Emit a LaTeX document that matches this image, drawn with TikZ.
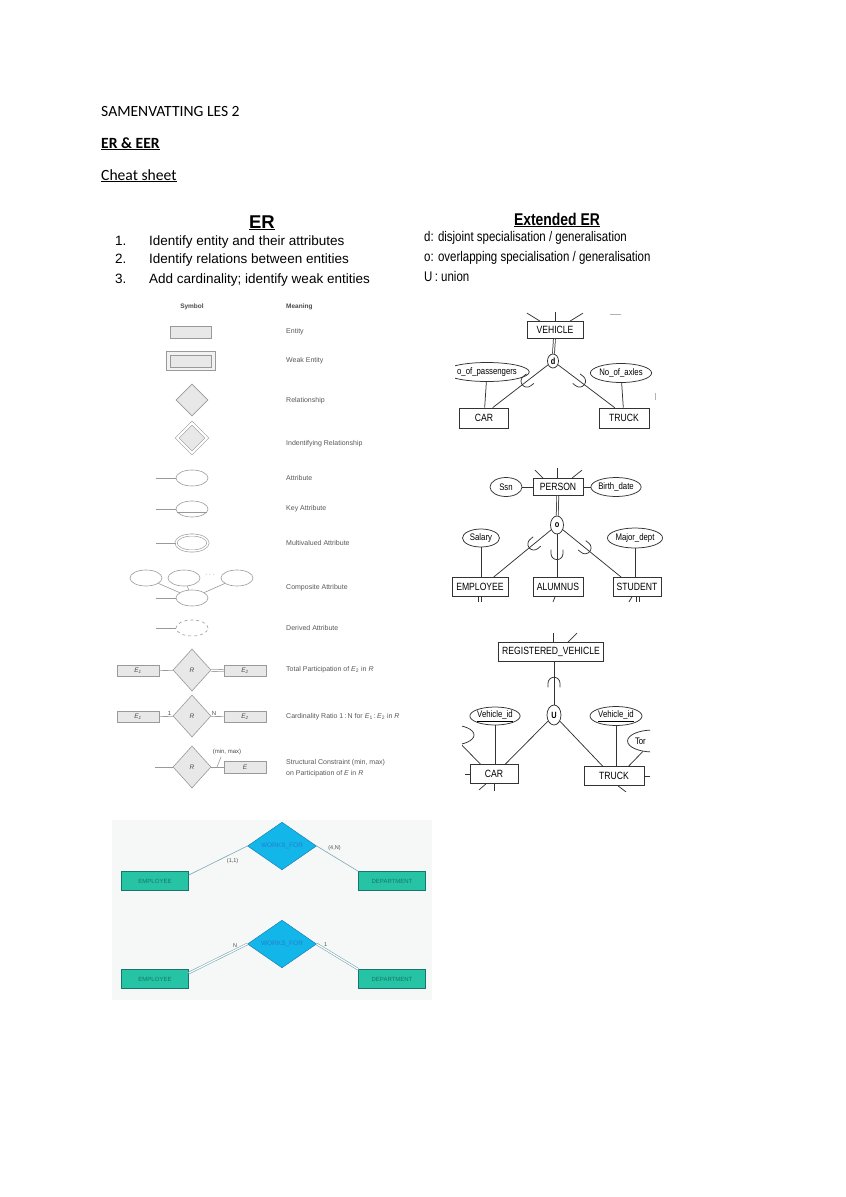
\documentclass[tikz,border=0pt]{standalone}
\usepackage{fontspec}
\setmainfont{Carlito}
\newfontfamily\arialfont{Liberation Sans}
\newfontfamily\narrowfont[FakeStretch=0.82]{Liberation Sans}
\usetikzlibrary{shapes.geometric}

\definecolor{tealfill}{RGB}{38,196,164}
\definecolor{tealdraw}{RGB}{22,118,108}
\definecolor{cyanfill}{RGB}{18,182,232}
\definecolor{cyandraw}{RGB}{20,118,176}
\definecolor{cyantext}{RGB}{40,124,210}
\definecolor{linkcol}{RGB}{122,168,178}
\definecolor{paper}{RGB}{246,248,248}

\begin{document}
\begin{tikzpicture}[x=1pt,y=-1pt,inner sep=1pt,
    subcup/.pic={\draw[eerline] (4,6) -- (0,6) arc[start angle=90,end angle=270,radius=6] -- (4,-6);}]
  \tikzstyle{symline}=[draw=gray!80,line width=0.6pt]
  \tikzstyle{entsym}=[symline,fill=gray!18,rectangle,minimum width=41,minimum height=12,inner sep=0pt,
                      font=\arialfont\itshape\fontsize{6.5}{7}\selectfont,text=black!70]
  \tikzstyle{relsym}=[symline,fill=gray!18,diamond,minimum width=32,minimum height=32,inner sep=0pt,
                      font=\arialfont\itshape\fontsize{6.5}{7}\selectfont,text=black!70]
  \tikzstyle{attsym}=[symline,ellipse,minimum width=32,minimum height=16,inner sep=0pt]
  \tikzstyle{meaning}=[anchor=west,font=\arialfont\fontsize{7}{8}\selectfont,text=black!65]
  \tikzstyle{eerline}=[draw=black!80,line width=0.75pt]
  \tikzstyle{ent}=[eerline,rectangle,minimum height=19,inner sep=1pt,font=\narrowfont\fontsize{10.5}{12}\selectfont]
  \tikzstyle{attr}=[eerline,ellipse,minimum height=19,inner sep=0pt,font=\narrowfont\fontsize{9.5}{11}\selectfont]
  \tikzstyle{gencirc}=[eerline,ellipse,minimum width=13,minimum height=18,inner sep=0pt,
                       font=\narrowfont\bfseries\fontsize{9}{10}\selectfont]
  \tikzstyle{wfent}=[rectangle,draw=tealdraw,fill=tealfill,minimum width=67,minimum height=19,inner sep=0pt,
                     font=\arialfont\fontsize{6}{7}\selectfont,text=tealdraw]
  \tikzstyle{wfrel}=[diamond,draw=cyandraw,fill=cyanfill,minimum width=69,minimum height=32,inner sep=0pt,
                     font=\arialfont\fontsize{6.5}{7}\selectfont,text=cyantext]
  \tikzstyle{wflink}=[draw=linkcol,line width=0.6pt]
  \tikzstyle{wflabel}=[font=\arialfont\fontsize{5.5}{6}\selectfont,text=black!70]

  \useasboundingbox[fill=white] (0,0) rectangle (846,1197);

  % header
  \node[anchor=base west,font=\fontsize{15.6}{18}\selectfont] (TTL) at (100,116) {SAMENVATTING LES 2};
  \node[anchor=base west,font=\bfseries\fontsize{15.6}{18}\selectfont] (SUB) at (100,148) {\underline{ER \& EER}};
  \node[anchor=base west,font=\fontsize{15.6}{18}\selectfont] (CHS) at (100,180) {\underline{Cheat sheet}};

  % ER steps
  \node[anchor=base,font=\arialfont\bfseries\fontsize{18.5}{20}\selectfont] (ERT) at (262,228) {\underline{ER}};
  \node[anchor=base west,font=\arialfont\fontsize{13.5}{16}\selectfont] (N1) at (114,245) {1.};
  \node[anchor=base west,font=\arialfont\fontsize{13.5}{16}\selectfont] (S1) at (148,245) {Identify entity and their attributes};
  \node[anchor=base west,font=\arialfont\fontsize{13.5}{16}\selectfont] (N2) at (114,263) {2.};
  \node[anchor=base west,font=\arialfont\fontsize{13.5}{16}\selectfont] (S2) at (148,263) {Identify relations between entities};
  \node[anchor=base west,font=\arialfont\fontsize{13.5}{16}\selectfont] (N3) at (114,283) {3.};
  \node[anchor=base west,font=\arialfont\fontsize{13.5}{16}\selectfont] (S3) at (148,283) {Add cardinality; identify weak entities};

  % EER legend
  \node[anchor=base,font=\narrowfont\bfseries\fontsize{17}{20}\selectfont] (EERT) at (557,225) {\underline{Extended ER}};
  \node[anchor=base west,font=\narrowfont\fontsize{14}{16}\selectfont] (LGD) at (423,241) {d: disjoint specialisation / generalisation};
  \node[anchor=base west,font=\narrowfont\fontsize{14}{16}\selectfont] (LGO) at (423,261) {o: overlapping specialisation / generalisation};
  \node[anchor=base west,font=\narrowfont\fontsize{14}{16}\selectfont] (LGU) at (423,281) {U\,: union};

  % symbol table
  \node[font=\arialfont\bfseries\fontsize{6.5}{8}\selectfont,text=black!70] (SYM) at (192,307) {Symbol};
  \node[anchor=west,font=\arialfont\bfseries\fontsize{6.5}{8}\selectfont,text=black!70] (MEA) at (285,307) {Meaning};

  \node[entsym] (ENT) at (191,332) {};
  \node[symline,fill=gray!10,rectangle,minimum width=49,minimum height=19,inner sep=0pt] (WEAK) at (191,361) {};
  \node[entsym,minimum width=41,minimum height=12] (WEAKIN) at (WEAK) {};
  \node[relsym] (REL) at (192,400) {};
  \node[relsym,double=white,double distance=2pt,minimum width=30,minimum height=30] (IDR) at (192,438) {};

  \coordinate (a0) at (156,478);
  \node[attsym] (ATT) at (192,478) {};
  \draw[symline] (a0) -- (ATT);
  \coordinate (k0) at (156,509);
  \node[attsym] (KEY) at (192,509) {};
  \draw[symline] (k0) -- (KEY);
  \draw[symline] ([xshift=1.5,yshift=-3]KEY.west) -- ([xshift=-1.5,yshift=-3]KEY.east);
  \coordinate (m0) at (156,543);
  \node[attsym,double=white,double distance=1.5pt] (MUL) at (192,543) {};
  \draw[symline] (m0) -- (MUL);

  \node[attsym] (CP1) at (146,578) {};
  \node[attsym] (CP2) at (184,578) {};
  \node[attsym] (CP3) at (237,578) {};
  \node[font=\fontsize{7}{8}\selectfont,text=black!60] (CPD) at (210,575) {$\cdots$};
  \node[attsym] (CPB) at (192,598) {};
  \coordinate (c0) at (156,598);
  \draw[symline] (CP1) -- (CPB);
  \draw[symline] (CP2) -- (CPB);
  \draw[symline] (CP3) -- (CPB);
  \draw[symline] (c0) -- (CPB);

  \coordinate (d0) at (156,628);
  \node[attsym,dashed] (DER) at (192,628) {};
  \draw[symline] (d0) -- (DER);

  \node[entsym,minimum width=42,minimum height=11] (TPA) at (138,671) {E\textsubscript{1}};
  \node[relsym,minimum width=38,minimum height=42] (TPR) at (192,670) {R};
  \node[entsym,minimum width=42,minimum height=11] (TPB) at (245,671) {E\textsubscript{2}};
  \draw[symline] (TPA) -- (TPR);
  \draw[symline,double=white,double distance=1.5pt] (TPR) -- (TPB);

  \node[entsym,minimum width=42,minimum height=11] (CRA) at (138,717) {E\textsubscript{1}};
  \node[relsym,minimum width=38,minimum height=42] (CRR) at (192,716) {R};
  \node[entsym,minimum width=42,minimum height=11] (CRB) at (245,717) {E\textsubscript{2}};
  \draw[symline] (CRA) -- node[pos=0.75,above,font=\arialfont\fontsize{6}{7}\selectfont,text=black!70] {1} (CRR);
  \draw[symline] (CRR) -- node[pos=0.25,above,font=\arialfont\fontsize{6}{7}\selectfont,text=black!70] {N} (CRB);

  \coordinate (s0) at (155,767);
  \node[relsym,minimum width=38,minimum height=42] (SCR) at (192,767) {R};
  \node[entsym,minimum width=42,minimum height=12] (SCE) at (245,767) {E};
  \draw[symline] (s0) -- (SCR);
  \draw[symline] (SCR) -- (SCE);
  \node[font=\arialfont\fontsize{6}{7}\selectfont,text=black!70] (MM) at (227,752) {(min, max)};
  \draw[symline] (217,767) -- (221,757);

  \node[meaning] (M1) at (285,332) {Entity};
  \node[meaning] (M2) at (285,361) {Weak Entity};
  \node[meaning] (M3) at (285,401) {Relationship};
  \node[meaning] (M4) at (285,444) {Indentifying Relationship};
  \node[meaning] (M5) at (285,478) {Attribute};
  \node[meaning] (M6) at (285,509) {Key Attribute};
  \node[meaning] (M7) at (285,543) {Multivalued Attribute};
  \node[meaning] (M8) at (285,588) {Composite Attribute};
  \node[meaning] (M9) at (285,628) {Derived Attribute};
  \node[meaning] (M10) at (285,670) {Total Participation of \textit{E}\textsubscript{2} in \textit{R}};
  \node[meaning] (M11) at (285,717) {Cardinality Ratio 1\,:\,N for \textit{E}\textsubscript{1}\,:\,\textit{E}\textsubscript{2} in \textit{R}};
  \node[meaning,align=left,font=\arialfont\fontsize{7}{11.5}\selectfont] (M12) at (285,768)
       {Structural Constraint (min, max)\\on Participation of \textit{E} in \textit{R}};

  % disjoint: vehicle
  \begin{scope}
    \clip (455,310) rectangle (662,432);
    \node[ent,minimum width=56,minimum height=17] (VEH) at (555,330) {VEHICLE};
    \node[gencirc,minimum width=11,minimum height=14] (DIS) at (553,361) {d};
    \node[ent,minimum width=49,minimum height=20] (CAR) at (484,418) {CAR};
    \node[ent,minimum width=50,minimum height=20] (TRK) at (624,418) {TRUCK};
    \node[attr,minimum width=68] (PAS) at (487,372) {o\_of\_passengers};
    \node[attr,minimum width=52] (AXL) at (621,373) {No\_of\_axles};
    \draw[eerline] (VEH.north) -- ++(0,-9);
    \draw[eerline] ([xshift=-15]VEH.north) -- ++(-13,-8);
    \draw[eerline] ([xshift=15]VEH.north) -- ++(13,-8);
    \draw[gray!60] (610,314) -- (621,314);
    \draw[gray!60] (655,393) -- (655,400);
    \draw[eerline,double=white,double distance=1.2pt] (VEH) -- (DIS);
    \draw[eerline] (CAR.50) -- (DIS) pic[pos=0.62,sloped,allow upside down]{subcup};
    \draw[eerline] (TRK.132) -- (DIS) pic[pos=0.62,sloped,allow upside down]{subcup};
    \draw[eerline] (PAS) -- (CAR);
    \draw[eerline] (AXL) -- (TRK);
  \end{scope}

  % overlapping: person
  \node[ent,minimum width=50,minimum height=17] (PER) at (558,487) {PERSON};
  \node[attr,minimum width=32] (SSN) at (506,487) {Ssn};
  \node[attr,minimum width=48] (BDT) at (616,487) {Birth\_date};
  \node[gencirc] (OVL) at (557,525) {o};
  \node[attr,minimum width=37,minimum height=18] (SAL) at (481,538) {Salary};
  \node[attr,minimum width=55,minimum height=20] (MAJ) at (635,538) {Major\_dept};
  \node[ent,minimum width=56] (EMP) at (480,587) {EMPLOYEE};
  \node[ent,minimum width=50] (ALU) at (558,587) {ALUMNUS};
  \node[ent,minimum width=48] (STU) at (637,587) {STUDENT};
  \draw[eerline] ([xshift=-15]PER.north) -- ++(-8,-8);
  \draw[eerline] ([xshift=-1]PER.north) -- ++(0,-10);
  \draw[eerline] ([xshift=14]PER.north) -- ++(10,-8);
  \draw[eerline] (SSN) -- (PER);
  \draw[eerline] (PER) -- (BDT);
  \draw[eerline,double=white,double distance=1.2pt] (PER) -- (OVL);
  \draw[eerline] (EMP.36) -- (OVL) pic[pos=0.7,sloped,allow upside down]{subcup};
  \draw[eerline] (ALU.north -| OVL) -- (OVL) pic[pos=0.55,sloped,allow upside down]{subcup};
  \draw[eerline] (STU.148) -- (OVL) pic[pos=0.62,sloped,allow upside down]{subcup};
  \draw[eerline] (SAL) -- (EMP.north -| SAL);
  \draw[eerline] (MAJ) -- (STU.north -| MAJ);
  \draw[eerline] ([xshift=-1.5]EMP.south) -- ++(0,5);
  \draw[eerline] ([xshift=1.5]EMP.south) -- ++(0,5);
  \draw[eerline] ([xshift=-3]ALU.south) -- ++(-2,5);
  \draw[eerline] ([xshift=-5]STU.south) -- ++(-3,5);
  \draw[eerline] ([xshift=-1]STU.south) -- ++(0,5);
  \draw[eerline] ([xshift=2]STU.south) -- ++(0,5);

  % union: registered vehicle
  \begin{scope}
    \clip (462,632) rectangle (650,793);
    \node[ent,minimum width=105] (REG) at (551,652) {REGISTERED\_VEHICLE};
    \node[gencirc,minimum width=14,minimum height=20] (UNI) at (554,715) {U};
    \node[attr,minimum width=50,minimum height=18] (VID1) at (495,716) {\underline{Vehicle\_id}};
    \node[attr,minimum width=52] (VID2) at (616,716) {\underline{Vehicle\_id}};
    \node[attr,minimum width=46,minimum height=22,text width=36,align=left] (TON) at (653,741) {Tor};
    \node[attr,minimum width=44,minimum height=20] (LFT) at (452,735) {};
    \node[ent,minimum width=48] (CAR2) at (494,774) {CAR};
    \node[ent,minimum width=60] (TRK2) at (614,776) {TRUCK};
    \draw[eerline] ([xshift=2]REG.north) -- ++(0,-9);
    \draw[eerline] ([xshift=17]REG.north) -- ++(9,-9);
    \draw[eerline] (UNI |- REG.south) -- (UNI) pic[pos=0.5,sloped,allow upside down]{subcup};
    \draw[eerline] (UNI) -- (CAR2.41);
    \draw[eerline] (UNI) -- (TRK2.139);
    \draw[eerline] (VID1) -- (CAR2.north -| VID1);
    \draw[eerline] (VID2) -- (TRK2.north -| VID2);
    \draw[eerline] (TON) -- (TRK2.34);
    \draw[eerline] (LFT) -- (CAR2.144);
    \draw[eerline] (CAR2.west) -- ++(-5,0);
    \draw[eerline] ([xshift=-8]CAR2.south) -- ++(-7,6);
    \draw[eerline] (CAR2.south) -- ++(0,7);
    \draw[eerline] (TRK2.east) -- ++(6,0);
    \draw[eerline] ([xshift=4]TRK2.south) -- ++(8,6);
  \end{scope}

  % works_for examples
  \fill[paper] (112,820) rectangle (432,1000);
  \node[wfent] (EMP1) at (155,881) {EMPLOYEE};
  \node[wfent] (DEP1) at (392,881) {DEPARTMENT};
  \node[wfrel] (WF1) at (282,846) {WORKS\_FOR};
  \draw[wflink] (EMP1.10) -- node[wflabel,pos=0.75,below=4pt] {(1,1)} (WF1.west);
  \draw[wflink] (WF1.east) -- node[wflabel,pos=0.25,anchor=south west] {(4,N)} (DEP1.north west);

  \node[wfent] (EMP2) at (155,979) {EMPLOYEE};
  \node[wfent] (DEP2) at (392,979) {DEPARTMENT};
  \node[wfrel] (WF2) at (282,944) {WORKS\_FOR};
  \draw[wflink,double=white,double distance=1.2pt] (EMP2.10) -- node[wflabel,pos=0.85,anchor=south east] {N} (WF2.west);
  \draw[wflink,double=white,double distance=1.2pt] (WF2.east) -- node[wflabel,pos=0.15,anchor=south west] {1} (DEP2.north west);
\end{tikzpicture}
\end{document}
